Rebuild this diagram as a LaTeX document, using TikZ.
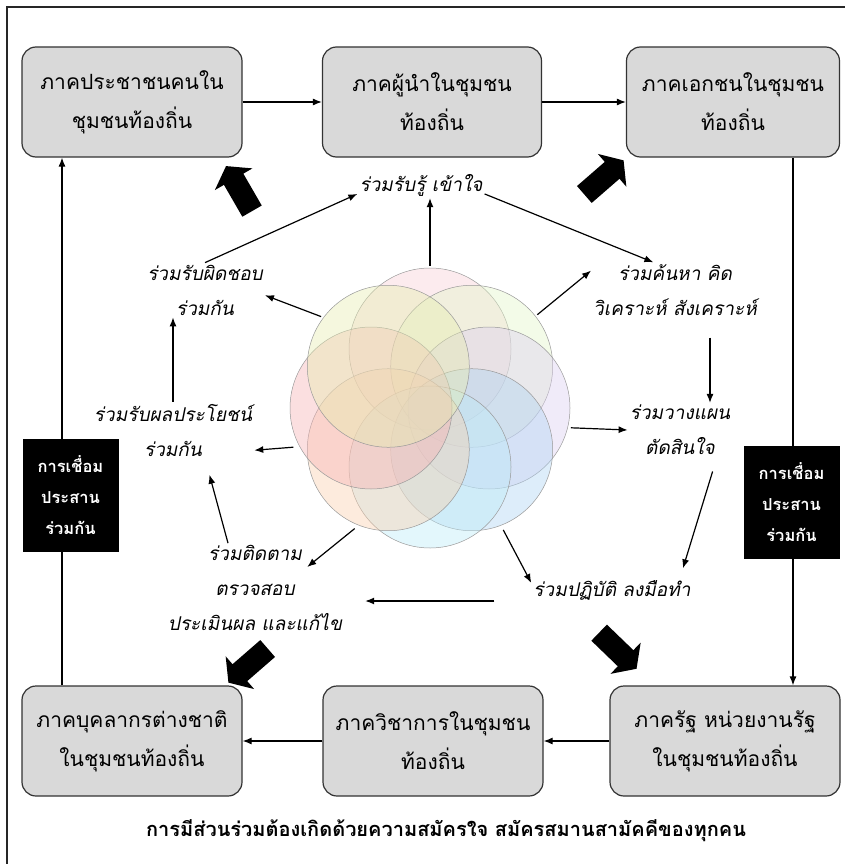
\documentclass[tikz,border=0pt]{standalone}
\usepackage{fontspec}
\newfontfamily\thaifont[Script=Thai]{Loma}
\newfontfamily\thaislant[Script=Thai,FakeSlant=0.2]{Loma}
\usetikzlibrary{arrows.meta,shapes.arrows}

\definecolor{boxgray}{HTML}{D9D9D9}
\definecolor{pkpink}{HTML}{F8D0D6}
\definecolor{pkgreen}{HTML}{E3F5C8}
\definecolor{pkviolet}{HTML}{DCCFF0}
\definecolor{pkblue}{HTML}{AFD3F2}
\definecolor{pkcyan}{HTML}{BDEBF8}
\definecolor{pkpeach}{HTML}{FAD0AE}
\definecolor{pkrose}{HTML}{F6B3B5}
\definecolor{pkyellow}{HTML}{E6EDB0}

\begin{document}
\begin{tikzpicture}[x=1pt,y=-1pt,>={Latex[length=9pt,width=7pt]},
  sector/.style={rectangle,rounded corners=14pt,draw=black!80,line width=1.2pt,
    fill=boxgray,minimum height=110pt,align=center,
    font=\thaifont\fontsize{21}{39}\selectfont},
  stagetext/.style={align=center,inner sep=2pt,
    font=\thaislant\fontsize{19}{35}\selectfont},
  linkbox/.style={fill=black,text=white,minimum width=96pt,minimum height=113pt,
    align=center,font=\thaifont\bfseries\fontsize{16.5}{31}\selectfont},
  bigarrow/.style={single arrow,fill=black,inner xsep=0pt,inner ysep=11pt,
    minimum height=52pt,single arrow head extend=10.5pt,single arrow tip angle=110},
  petal/.style={draw=black!40,line width=0.5pt,fill opacity=0.42}]
\useasboundingbox (0,0) rectangle (844,864);
\draw [line width=1.5pt,black!85] (7,7) rectangle (880,900);

% the six sectors
\node (people)  at (132,102) [sector,minimum width=220pt] {ภาคประชาชนคนใน\\ชุมชนท้องถิ่น};
\node (leaders) at (432,102) [sector,minimum width=219pt] {ภาคผู้นำในชุมชน\\ท้องถิ่น};
\node (private) at (733,102) [sector,minimum width=213pt] {ภาคเอกชนในชุมชน\\ท้องถิ่น};
\node (foreign) at (132,741) [sector,minimum width=220pt] {ภาคบุคลากรต่างชาติ\\ในชุมชนท้องถิ่น};
\node (academic) at (433,741) [sector,minimum width=220pt] {ภาควิชาการในชุมชน\\ท้องถิ่น};
\node (state)   at (725,741) [sector,minimum width=230pt] {ภาครัฐ หน่วยงานรัฐ\\ในชุมชนท้องถิ่น};

\draw [line width=1.2pt,->] (people) to (leaders);
\draw [line width=1.2pt,->] (leaders) to (private);
\draw [line width=1.2pt,->] (state) to (academic);
\draw [line width=1.2pt,->] (academic) to (foreign);

% side links
\coordinate (lline) at (62,0);
\coordinate (rline) at (793,0);
\draw [line width=1.2pt,->] (foreign.north -| lline) to (people.south -| lline);
\draw [line width=1.2pt,->] (private.south -| rline) to (state.north -| rline);
\node (linkL) at (70.5,495.5) [linkbox] {การเชื่อม\\ประสาน\\ร่วมกัน};
\node (linkR) at (791.5,502.5) [linkbox] {การเชื่อม\\ประสาน\\ร่วมกัน};

% the flower in the middle
\node (flower) at (430,408) [circle,minimum size=284pt,inner sep=0pt] {};
\foreach \a/\c in {-90/pkpink,-45/pkgreen,0/pkviolet,45/pkblue,90/pkcyan,
                   135/pkpeach,180/pkrose,-135/pkyellow}
  \path [petal,fill=\c] ([shift={(\a:59)}]flower.center) circle [radius=81];

% stages of taking part
\node (know) at (421,185) [stagetext] {ร่วมรับรู้ เข้าใจ};
\node (seek) at (675,290) [stagetext] {ร่วมค้นหา คิด\\วิเคราะห์ สังเคราะห์};
\node (plan) at (680,430) [stagetext] {ร่วมวางแผน\\ตัดสินใจ};
\node (act)  at (612,590) [stagetext] {ร่วมปฏิบัติ ลงมือทำ};
\node (check) at (255,588) [stagetext] {ร่วมติดตาม\\ตรวจสอบ\\ประเมินผล และแก้ไข};
\node (gain) at (173,430) [stagetext] {ร่วมรับผลประโยชน์\\ร่วมกัน};
\node (duty) at (205,290) [stagetext] {ร่วมรับผิดชอบ\\ร่วมกัน};

\draw [line width=1.2pt,->] (flower.north) to (flower.north |- know.south);
\draw [line width=1.2pt,->] (flower.41) to (seek.167);
\draw [line width=1.2pt,->] (flower.-8) to (plan.west);
\draw [line width=1.2pt,->] (flower.-59) to (act.175);
\draw [line width=1.2pt,->] (flower.-122) to ([xshift=-37pt,yshift=21pt]check.east);
\draw [line width=1.2pt,->] (flower.196) to (gain.-14);
\draw [line width=1.2pt,->] (flower.140) to (duty.-5);

\draw [line width=1.2pt,->] (duty.north) to (know.188);
\draw [line width=1.2pt,->] (know.-8) to (seek.128);
\draw [line width=1.2pt,->,shorten <=20pt] ([xshift=35pt]seek.south) to ([xshift=30pt]plan.north);
\draw [line width=1.2pt,->,shorten <=15pt,shorten >=10pt] ([xshift=37pt]plan.south) to ([xshift=68pt]act.north);
\draw [line width=1.2pt,->] ([xshift=-37pt,yshift=-11pt]act.west) to ([xshift=21pt,yshift=-13pt]check.east);
\draw [line width=1.2pt,->,shorten >=17pt] ([xshift=-27pt]check.north) to ([xshift=32pt]gain.south);
\draw [line width=1.2pt,->] (gain.north) to (gain.north |- duty.south);

% thick arrows out to the sectors
\node (toPeople)  at (241,192) [bigarrow,rotate=120] {};
\node (toPrivate) at (601,180) [bigarrow,rotate=41] {};
\node (toForeign) at (251,663) [bigarrow,rotate=221] {};
\node (toState)   at (615,648) [bigarrow,rotate=-44] {};

\node (motto) at (446,831) [font=\thaifont\bfseries\fontsize{20}{24}\selectfont]
  {การมีส่วนร่วมต้องเกิดด้วยความสมัครใจ สมัครสมานสามัคคีของทุกคน};
\end{tikzpicture}
\end{document}
